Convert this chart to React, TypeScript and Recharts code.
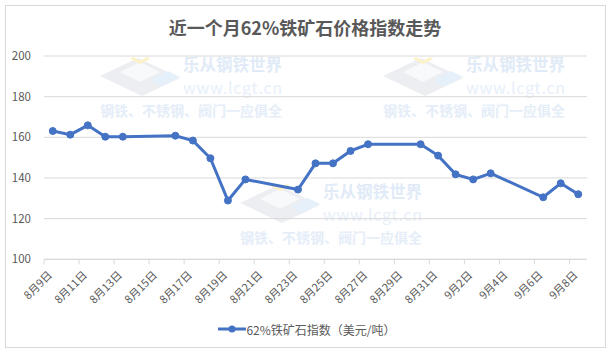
import React from 'react';
import { LineChart, Line, XAxis, YAxis, CartesianGrid, Legend } from 'recharts';

// ---- data ----
const dateLabels = [
  '8月9日', '8月10日', '8月11日', '8月12日', '8月13日',
  '8月16日', '8月17日', '8月18日', '8月19日', '8月20日',
  '8月23日', '8月24日', '8月25日', '8月26日', '8月27日',
  '8月30日', '8月31日', '9月1日', '9月2日', '9月3日',
  '9月6日', '9月7日', '9月8日',
];
// day offset from 8月9日 (date axis)
const dayIndex = [0, 1, 2, 3, 4, 7, 8, 9, 10, 11, 14, 15, 16, 17, 18, 21, 22, 23, 24, 25, 28, 29, 30];
const ironOreIndex = [
  163.1, 161.3, 165.9, 160.3, 160.3,
  160.8, 158.4, 149.7, 128.9, 139.3,
  134.3, 147.2, 147.2, 153.3, 156.6,
  156.6, 151.0, 141.8, 139.3, 142.3,
  130.5, 137.4, 132.0,
];
const axisTicks = [0, 2, 4, 6, 8, 10, 12, 14, 16, 18, 20, 22, 24, 26, 28, 30];
const axisTickLabels = [
  '8月9日', '8月11日', '8月13日', '8月15日', '8月17日', '8月19日', '8月21日', '8月23日',
  '8月25日', '8月27日', '8月29日', '8月31日', '9月2日', '9月4日', '9月6日', '9月8日',
];
const yTicks = [100, 120, 140, 160, 180, 200];
const seriesName = '62%铁矿石指数（美元/吨）';
const title = '近一个月62%铁矿石价格指数走势';

const data = dateLabels.map((d, i) => ({ date: d, day: dayIndex[i], value: ironOreIndex[i] }));

// ---- layout ----
const W = 614;
const H = 357;
const MARGIN = { top: 56, right: 27, bottom: 18, left: 13 };
const Y_W = 31;
const PLOT_W = W - MARGIN.left - MARGIN.right - Y_W;
const SLOTS = 31;
const HALF_SLOT = PLOT_W / SLOTS / 2;
const BLUE = '#4472C4';
const TEXT = '#595959';
const GRID = '#d9d9d9';
const FONT = "'Noto Sans CJK SC', 'Noto Sans', sans-serif";

const XTick = (props: any) => {
  const { x, y, payload } = props;
  const idx = axisTicks.indexOf(payload.value);
  const label = idx >= 0 ? axisTickLabels[idx] : '';
  return (
    <g>
      <line x1={x - HALF_SLOT} x2={x - HALF_SLOT} y1={y} y2={y + 5} stroke={GRID} strokeWidth={1} />
      <text
        transform={`translate(${x},${y + 16.5}) rotate(-45)`}
        textAnchor="end"
        fontSize={11}
        fill={TEXT}
      >
        {label}
      </text>
    </g>
  );
};

const LegendContent = () => (
  <div
    style={{
      display: 'flex',
      justifyContent: 'center',
      alignItems: 'center',
      height: 20,
      fontSize: 12,
      color: TEXT,
      fontFamily: FONT,
      paddingLeft: 14,
      boxSizing: 'border-box',
    }}
  >
    <svg width={28} height={10} style={{ display: 'block' }}>
      <line x1={0} x2={28} y1={5} y2={5} stroke={BLUE} strokeWidth={3} />
      <circle cx={14} cy={5} r={3.5} fill={BLUE} />
    </svg>
    <span style={{ whiteSpace: 'nowrap' }}>{seriesName}</span>
  </div>
);

const Logo = ({ x, y }: { x: number; y: number }) => (
  <g transform={`translate(${x},${y})`}>
    <polygon points="0,22 38,4 80,24 42,42" fill="#eceef2" />
    <polygon points="50,26 68,17 80,23 62,32" fill="#e6f0fa" />
    <polygon points="20,18 40,8 60,18 40,28" fill="#f8f9fa" />
    <polygon points="30,5 40,10 50,5 47,3 40,7 33,3" fill="#fcf2c6" />
  </g>
);

const Watermark = ({ dx, dy }: { dx: number; dy: number }) => (
  <g transform={`translate(${dx},${dy})`}>
    <Logo x={100} y={54} />
    <text x={183} y={71} fontSize={16.5} fontWeight="bold" fill="#e1ebf7" textLength={99} lengthAdjust="spacingAndGlyphs">
      乐从钢铁世界
    </text>
    <text x={183} y={94} fontSize={16} fill="#e7effa" textLength={99} lengthAdjust="spacing">
      www.lcgt.cn
    </text>
    <text x={100} y={116} fontSize={14} fontWeight="bold" fill="#e5eef8" textLength={182} lengthAdjust="spacingAndGlyphs">
      钢铁、不锈钢、阀门一应俱全
    </text>
  </g>
);

export default function App() {
  return (
    <div
      style={{
        position: 'absolute',
        left: 0,
        top: 0,
        width: W,
        height: H,
        background: '#fff',
        fontFamily: FONT,
        overflow: 'hidden',
      }}
    >
      <svg width={W} height={H} style={{ position: 'absolute', left: 0, top: 0 }}>
        <Watermark dx={0} dy={0} />
        <Watermark dx={283} dy={0} />
        <Watermark dx={140} dy={127} />
      </svg>
      <div
        style={{
          position: 'absolute',
          left: 5,
          top: 5,
          width: 601,
          height: 343,
          border: `1px solid ${GRID}`,
          boxSizing: 'border-box',
        }}
      />
      <div
        style={{
          position: 'absolute',
          left: 0,
          top: 18,
          width: 610,
          textAlign: 'center',
          fontSize: 18,
          lineHeight: '18px',
          fontWeight: 'bold',
          color: TEXT,
          whiteSpace: 'nowrap',
        }}
      >
        {title}
      </div>
      <div style={{ position: 'absolute', left: 0, top: 0 }}>
        <LineChart width={W} height={H} data={data} margin={MARGIN}>
          <CartesianGrid vertical={false} stroke={GRID} />
          <XAxis
            type="number"
            dataKey="day"
            domain={[-0.5, 30.5]}
            ticks={axisTicks}
            interval={0}
            allowDataOverflow
            tick={<XTick />}
            tickLine={false}
            tickSize={0}
            tickMargin={0}
            axisLine={{ stroke: GRID }}
            height={59.7}
          />
          <YAxis
            width={Y_W}
            domain={[100, 200]}
            ticks={yTicks}
            interval={0}
            axisLine={false}
            tickLine={false}
            tickSize={5}
            tickMargin={8}
            tick={{ fontSize: 11.5, fill: TEXT }}
          />
          <Legend verticalAlign="bottom" content={<LegendContent />} />
          <Line
            type="linear"
            dataKey="value"
            name={seriesName}
            stroke={BLUE}
            strokeWidth={3}
            dot={{ r: 3.5, fill: BLUE, stroke: BLUE, strokeWidth: 1 }}
            isAnimationActive={false}
          />
        </LineChart>
      </div>
    </div>
  );
}
